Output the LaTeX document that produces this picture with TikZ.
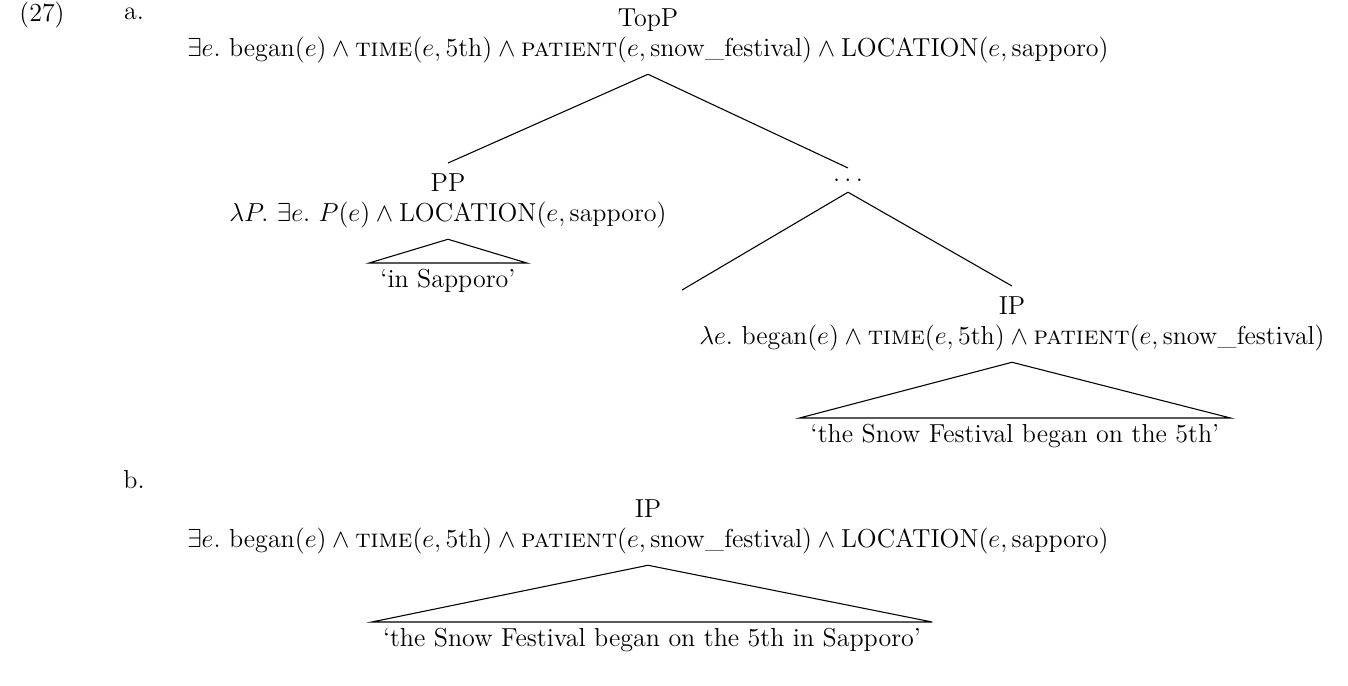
\documentclass[tikz,border=0pt]{standalone}
\usepackage{amsmath,amssymb}
\usepackage{xcolor}
\usepackage{tikz}
\usetikzlibrary{positioning}
\newcommand{\relTime}{\text{\textsc{time}}}
\newcommand{\relPat}{\text{\textsc{patient}}}
\newcommand{\relLoc}{\text{LOCATION}}
\newcommand{\snowfest}{\mathrm{snow\_festival}}
\newcommand{\sapp}{\mathrm{sapporo}}

\begin{document}
\begin{tikzpicture}[
  x=0.4615pt, y=-0.4615pt, font=\large,
  cat/.style={align=center,inner sep=1pt,outer ysep=4pt,anchor=north},
  gloss/.style={inner xsep=5pt,inner ysep=2.5pt,anchor=north},
  lbl/.style={inner sep=0pt},
  br/.style={line width=0.5pt,black},
]
\useasboundingbox (0,0) rectangle (1348,685);
\node[lbl] (ex)  at (42,15)  {(27)};
\node[lbl] (exa) at (134,14) {a.};
\node[lbl] (exb) at (134,480) {b.};

% tree a
\node[cat] (topp) at (648,-2)
  {TopP\\$\exists e.\ \mathrm{began}(e)\wedge\relTime(e,\mathrm{5th})\wedge\relPat(e,\snowfest)\wedge\relLoc(e,\sapp)$};
\node[cat] (pp) at (448,163)
  {PP\\$\lambda P.\ \exists e.\ P(e)\wedge\relLoc(e,\sapp)$};
\node[cat] (dots) at (848,168) {$\ldots$};
\coordinate (gap) at (682,290);
\node[cat] (ip) at (1012,286)
  {IP\\$\lambda e.\ \mathrm{began}(e)\wedge\relTime(e,\mathrm{5th})\wedge\relPat(e,\snowfest)$};
\node[gloss] (insap) at (448,263) {`in Sapporo'};
\node[gloss] (began) at (1015,418) {`the Snow Festival began on the 5th'};

\draw[br] (topp.south) -- (pp.north);
\draw[br] (topp.south) -- (dots.north);
\draw[br] (dots.south) -- (gap);
\draw[br] (dots.south) -- (ip.north);
\draw[br] (pp.south) -- (insap.north west) -- (insap.north east) -- cycle;
\draw[br] (ip.south) -- (began.north west) -- (began.north east) -- cycle;

% tree b
\node[cat] (ipb) at (648,489)
  {IP\\$\exists e.\ \mathrm{began}(e)\wedge\relTime(e,\mathrm{5th})\wedge\relPat(e,\snowfest)\wedge\relLoc(e,\sapp)$};
\node[gloss] (all) at (652,622) {`the Snow Festival began on the 5th in Sapporo'};
\draw[br] (ipb.south) -- (all.north west) -- (all.north east) -- cycle;
\end{tikzpicture}
\end{document}
